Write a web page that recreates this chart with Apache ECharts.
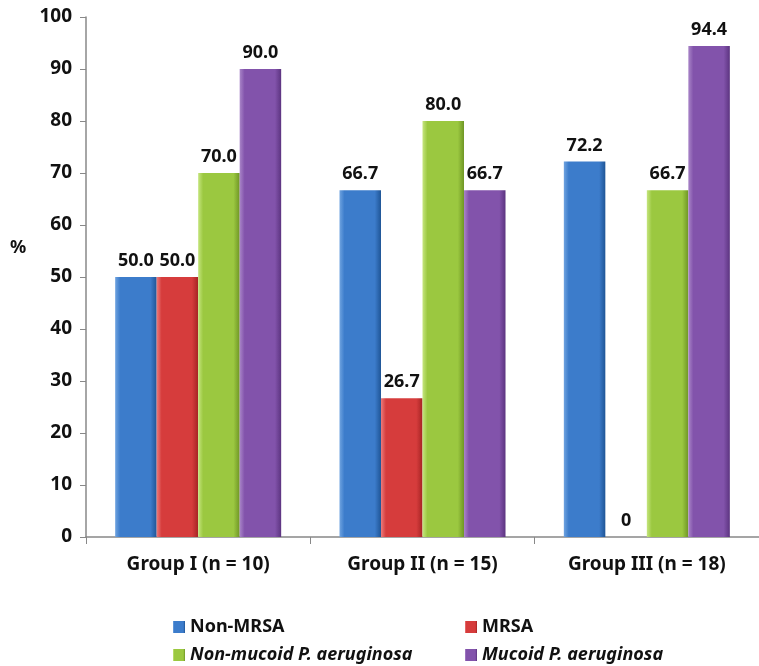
<!DOCTYPE html>
<html>
<head>
<meta charset="utf-8">
<script src="https://cdn.jsdelivr.net/npm/echarts@6/dist/echarts.min.js"></script>
<style>
  html, body { margin: 0; padding: 0; background: #fff; }
  #chart { width: 759px; height: 666px; }
</style>
</head>
<body>
<div id="chart"></div>
<script>
// 分组
var groups = ['Group I (n = 10)', 'Group II (n = 15)', 'Group III (n = 18)'];
// 各系列数值 (%)
var nonMrsa = [50.0, 66.7, 72.2];
var mrsa = [50.0, 26.7, 0];
var nonMucoid = [70.0, 80.0, 66.7];
var mucoid = [90.0, 66.7, 94.4];
var seriesNames = ['Non-MRSA', 'MRSA', 'Non-mucoid P. aeruginosa', 'Mucoid P. aeruginosa'];

var font = 'Noto Sans';

function bevel(light, mid, dark) {
  return new echarts.graphic.LinearGradient(0, 0, 1, 0, [
    { offset: 0, color: light },
    { offset: 0.12, color: mid },
    { offset: 0.85, color: mid },
    { offset: 1, color: dark }
  ]);
}

function makeSeries(name, data, c) {
  return {
    name: name,
    type: 'bar',
    data: data,
    barGap: '0%',
    barCategoryGap: '26%',
    itemStyle: { color: c },
    label: {
      show: true,
      position: 'top',
      distance: 7,
      color: '#111',
      fontFamily: font,
      fontWeight: 'bold',
      fontSize: 18,
      formatter: function (p) { return p.value === 0 ? '0' : p.value.toFixed(1); }
    }
  };
}

var legendBase = {
  itemWidth: 12,
  itemHeight: 12,
  itemGap: 6,
  icon: 'rect',
  textStyle: { fontFamily: font, fontWeight: 'bold', fontSize: 18, color: '#111' }
};

var chart = echarts.init(document.getElementById('chart'));
var option = {
  animation: false,
  backgroundColor: '#fff',
  grid: { left: 86, top: 17, width: 679, height: 520, containLabel: false },
  legend: [
    Object.assign({}, legendBase, { data: [seriesNames[0]], left: 168, top: 613 }),
    Object.assign({}, legendBase, { data: [seriesNames[1]], left: 460, top: 613 }),
    Object.assign({}, legendBase, { data: [seriesNames[2]], left: 168, top: 641,
      textStyle: Object.assign({}, legendBase.textStyle, { fontStyle: 'italic' }) }),
    Object.assign({}, legendBase, { data: [seriesNames[3]], left: 460, top: 641,
      textStyle: Object.assign({}, legendBase.textStyle, { fontStyle: 'italic' }) })
  ],
  graphic: [{
    type: 'text',
    left: 10,
    top: 239,
    style: { text: '%', fill: '#111', font: 'bold 18px "Noto Sans"' }
  }],
  xAxis: {
    type: 'category',
    data: groups,
    axisLine: { lineStyle: { color: '#888', width: 1.5 } },
    axisTick: { show: true, length: 7, lineStyle: { color: '#888' } },
    axisLabel: { color: '#111', fontFamily: font, fontWeight: 'bold', fontSize: 19, margin: 18 }
  },
  yAxis: {
    type: 'value',
    min: 0,
    max: 100,
    interval: 10,
    splitLine: { show: false },
    axisLine: { show: true, lineStyle: { color: '#888', width: 1.5 } },
    axisTick: { show: true, length: 6, lineStyle: { color: '#888' } },
    axisLabel: { color: '#111', fontFamily: font, fontWeight: 'bold', fontSize: 19, margin: 14 }
  },
  series: [
    makeSeries(seriesNames[0], nonMrsa, bevel('#6fa3e0', '#3c7ccb', '#1f5596')),
    makeSeries(seriesNames[1], mrsa, bevel('#ec7b7b', '#d63c3c', '#a52424')),
    makeSeries(seriesNames[2], nonMucoid, bevel('#c5e57e', '#9bc840', '#6f9625')),
    makeSeries(seriesNames[3], mucoid, bevel('#a985c8', '#8253ab', '#5c3480'))
  ]
};
chart.setOption(option);
</script>
</body>
</html>
